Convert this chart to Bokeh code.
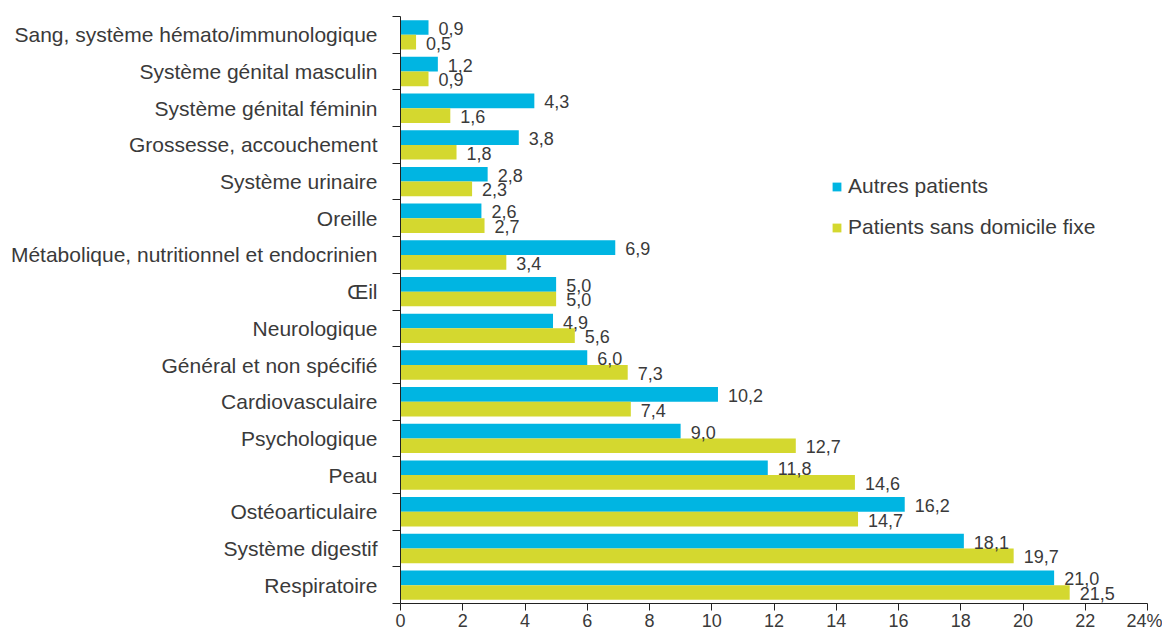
from bokeh.plotting import figure
from bokeh.models import Range1d, FixedTicker, ColumnDataSource, Legend, LegendItem
from bokeh.core.properties import value
from bokeh.embed import file_html
from bokeh.resources import INLINE

categories = [
    "Sang, système hémato/immunologique",
    "Système génital masculin",
    "Système génital féminin",
    "Grossesse, accouchement",
    "Système urinaire",
    "Oreille",
    "Métabolique, nutritionnel et endocrinien",
    "Œil",
    "Neurologique",
    "Général et non spécifié",
    "Cardiovasculaire",
    "Psychologique",
    "Peau",
    "Ostéoarticulaire",
    "Système digestif",
    "Respiratoire",
]
autres = [0.9, 1.2, 4.3, 3.8, 2.8, 2.6, 6.9, 5.0, 4.9, 6.0, 10.2, 9.0, 11.8, 16.2, 18.1, 21.0]
sdf = [0.5, 0.9, 1.6, 1.8, 2.3, 2.7, 3.4, 5.0, 5.6, 7.3, 7.4, 12.7, 14.6, 14.7, 19.7, 21.5]
x_ticks = [0, 2, 4, 6, 8, 10, 12, 14, 16, 18, 20, 22, 24]
series_names = ["Autres patients", "Patients sans domicile fixe"]

BLUE = "#00B5E2"
GREEN = "#D4D82F"
TXT = "#3a3a3a"
FONT = "Liberation Sans"

n = len(categories)
pos = [n - 1 - i for i in range(n)]

def fmt(v):
    return f"{v:.1f}".replace(".", ",")

src_a = ColumnDataSource(dict(y=[p_ + 0.2 for p_ in pos], x=autres, lab=[fmt(v) for v in autres]))
src_s = ColumnDataSource(dict(y=[p_ - 0.2 for p_ in pos], x=sdf, lab=[fmt(v) for v in sdf]))

p = figure(width=1162, height=633, output_backend="svg", toolbar_location=None,
           x_range=Range1d(0, 24), y_range=Range1d(-0.5, n - 0.5),
           min_border_left=400, min_border_right=15, min_border_top=16, min_border_bottom=21)
p.outline_line_color = None
p.xgrid.grid_line_color = None
p.ygrid.grid_line_color = None
p.background_fill_color = "white"

ra = p.hbar(y="y", right="x", left=0, height=0.4, source=src_a, fill_color=BLUE, line_color=None)
rs = p.hbar(y="y", right="x", left=0, height=0.4, source=src_s, fill_color=GREEN, line_color=None)

for src in (src_a, src_s):
    p.text(x="x", y="y", text="lab", source=src, x_offset=10, y_offset=1,
           text_baseline="middle", text_align="left", text_color=TXT,
           text_font=value(FONT), text_font_size="18px")

# x axis
xa = p.xaxis[0]
xa.ticker = FixedTicker(ticks=x_ticks)
xa.major_label_overrides = {24: "24%"}
xa.axis_line_color = "#222222"
xa.major_tick_line_color = "#222222"
xa.major_tick_in = 0
xa.major_tick_out = 7
xa.minor_tick_line_color = None
xa.major_label_standoff = 0
xa.major_label_text_font = FONT
xa.major_label_text_font_size = "18px"
xa.major_label_text_color = TXT

# y axis
ya = p.yaxis[0]
ya.ticker = FixedTicker(ticks=pos, minor_ticks=[k - 0.5 for k in range(n + 1)])
ya.major_label_overrides = {pos[i]: categories[i] for i in range(n)}
ya.axis_line_color = "#222222"
ya.major_tick_line_color = None
ya.major_tick_in = 0
ya.major_tick_out = 0
ya.minor_tick_line_color = "#222222"
ya.minor_tick_in = 0
ya.minor_tick_out = 8
ya.major_label_standoff = 15
ya.major_label_text_font = FONT
ya.major_label_text_font_size = "21px"
ya.major_label_text_color = TXT

legend = Legend(items=[LegendItem(label=series_names[0], renderers=[ra]),
                       LegendItem(label=series_names[1], renderers=[rs])],
                location=(431, 364), orientation="vertical")
legend.glyph_width = 11
legend.glyph_height = 11
legend.label_height = 24
legend.spacing = 17
legend.padding = 0
legend.margin = 0
legend.label_standoff = 6
legend.border_line_color = None
legend.background_fill_alpha = 0
legend.label_text_font = FONT
legend.label_text_font_size = "21px"
legend.label_text_color = TXT
p.add_layout(legend, "center")

open("out.html", "w").write(file_html(p, INLINE))
